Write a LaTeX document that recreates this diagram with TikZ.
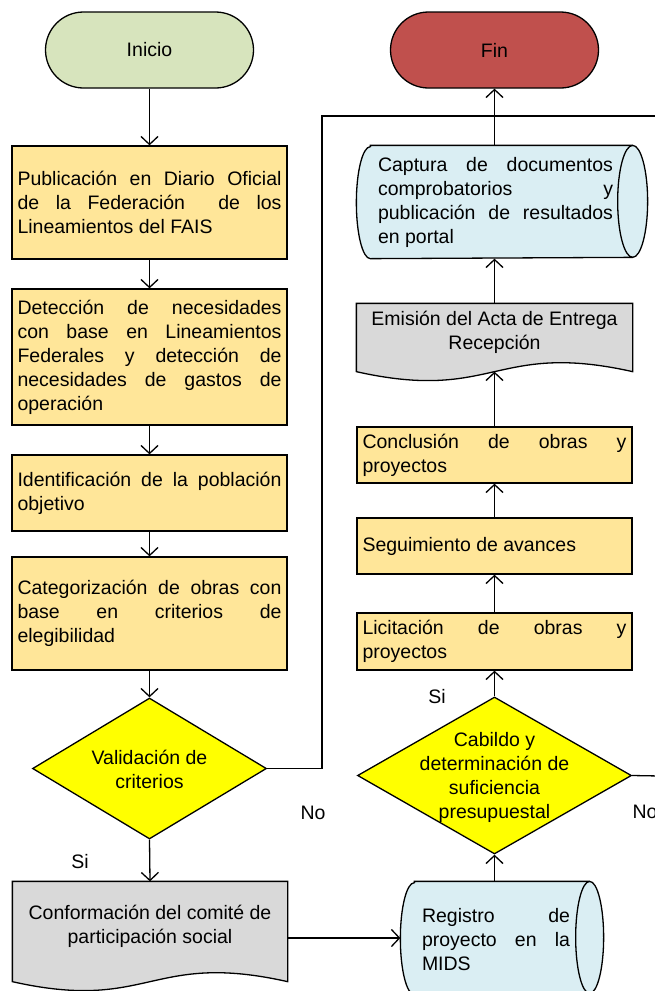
\documentclass[tikz,border=0pt]{standalone}
\usepackage{fontspec}
\setmainfont{Liberation Sans}
\usetikzlibrary{arrows.meta,shapes.geometric,calc}
\hbadness=10000 \tolerance=10000 \hyphenpenalty=10000 \exhyphenpenalty=10000
\definecolor{cgreen}{HTML}{D7E4BD}
\definecolor{cred}{HTML}{C0504D}
\definecolor{cbox}{HTML}{FFE699}
\definecolor{cblue}{HTML}{DAEEF3}
\definecolor{cgray}{HTML}{D9D9D9}
\definecolor{cyel}{HTML}{FFFF00}
\begin{document}
\begin{tikzpicture}[x=1pt,y=-1pt,line width=1.3pt,
  font=\fontsize{19.5}{24}\selectfont,
  term/.style={draw,rounded corners=38pt,minimum width=208pt,minimum height=76pt,inner sep=0pt},
  procbox/.style={draw,fill=cbox,minimum width=275pt,inner xsep=5.5pt,inner ysep=0pt,text width=264pt,align=justify},
  ghost/.style={draw=none,inner sep=0pt},
  dia/.style={diamond,draw,fill=cyel,inner sep=0pt},
  ctext/.style={inner sep=0pt,align=center},
  jtext/.style={inner sep=0pt,align=justify},
  lbl/.style={inner sep=0pt},
  arr/.style={-{Straight Barb[length=8pt,width=17pt]}}]
\useasboundingbox (0,0) rectangle (655,991);
\fill[white] (0,0) rectangle (655,991);
\clip (0,0) rectangle (655,991);

% terminals
\node[term,fill=cgreen] (ini) at (149.5,50) {Inicio};
\node[term,fill=cred] (fin) at (494.5,50) {Fin};

% left column
\node[procbox,minimum height=113pt] (b1) at (149.5,202.5) {Publicación en Diario Oficial\linebreak de la Federación \ de los\linebreak Lineamientos del FAIS};
\node[procbox,minimum height=136pt] (b2) at (149.5,357) {Detección de necesidades\linebreak con base en Lineamientos\linebreak Federales y detección de\linebreak necesidades de gastos de\linebreak operación};
\node[procbox,minimum height=76pt] (b3) at (149.5,493) {Identificación de la población\linebreak objetivo};
\node[procbox,minimum height=113pt] (b4) at (149.5,613.5) {Categorización de obras con\linebreak base en criterios de\linebreak elegibilidad};
\node[dia,minimum width=234pt,minimum height=141pt] (d1) at (149.5,768.5) {};
\node[ctext] (d1t) at (149.5,769.5) {Validación de\\criterios};

% document 1
\node[ghost,minimum width=274pt,minimum height=99pt] (doc1) at (150,931.5) {};
\draw[fill=cgray] (doc1.north west) -- (doc1.north east) -- (doc1.south east)
  .. controls ($(doc1.south)+(0,-31)$) and ($(doc1.south)+(0,31)$) .. (doc1.south west) -- cycle;
\node[ctext] (doc1t) at (150,926) {Conformación del comité de\\participación social};

% registro cylinder
\node[ghost,minimum width=202pt,minimum height=112pt] (reg) at (502,938) {};
\draw[fill=cblue] ($(reg.north west)+(14,0)$) -- ($(reg.north east)+(-14,0)$)
  arc[start angle=-90,end angle=90,x radius=14,y radius=56]
  -- ($(reg.south west)+(14,0)$)
  arc[start angle=90,end angle=270,x radius=14,y radius=56] -- cycle;
\draw ($(reg.north east)+(-14,0)$) arc[start angle=270,end angle=90,x radius=14,y radius=56];
\node[jtext,text width=148pt] (regt) at (496,940) {Registro de\linebreak proyecto en la\linebreak MIDS};

% right column
\node[dia,minimum width=274pt,minimum height=157pt] (d2) at (494.5,775.5) {};
\node[ctext] (d2t) at (494.5,777) {Cabildo y\\determinación de\\suficiencia\\presupuestal};
\node[procbox,minimum height=57pt] (lic) at (494.5,641.5) {Licitación de obras y\linebreak proyectos};
\node[procbox,minimum height=56pt] (seg) at (494.5,546) {Seguimiento de avances};
\node[procbox,minimum height=56pt] (con) at (494.5,455) {Conclusión de obras y\linebreak proyectos};

% document 2
\node[ghost,minimum width=275pt,minimum height=67pt] (emi) at (494.5,337.5) {};
\draw[fill=cgray] (emi.north west) -- (emi.north east) -- (emi.south east)
  .. controls ($(emi.south)+(0,-31)$) and ($(emi.south)+(0,31)$) .. (emi.south west) -- cycle;
\node[ctext] (emit) at (494.5,332.5) {Emisión del Acta de Entrega\\Recepción};

% captura cylinder
\node[ghost,minimum width=290pt,minimum height=112pt] (cap) at (502,202) {};
\draw[fill=cblue] ($(cap.north west)+(14,0)$) -- ($(cap.north east)+(-15,0)$)
  arc[start angle=-90,end angle=90,x radius=15,y radius=56]
  -- ($(cap.south west)+(14,0)$)
  arc[start angle=90,end angle=270,x radius=14,y radius=56] -- cycle;
\draw ($(cap.north east)+(-15,0)$) arc[start angle=270,end angle=90,x radius=15,y radius=56];
\node[jtext,text width=235pt] (capt) at (495.5,202.75) {Captura de documentos\linebreak comprobatorios y\linebreak publicación de resultados\linebreak en portal};

% labels
\node[lbl] (no1) at (313,813) {No};
\node[lbl] (si1) at (80,862) {Si};
\node[lbl] (si2) at (437,697) {Si};
\node[lbl,anchor=west] (no2) at (632,812) {No};

% connectors
\draw[arr] (ini.south) -- (b1.north);
\draw[arr] (b1.south) -- (b2.north);
\draw[arr] (b2.south) -- (b3.north);
\draw[arr] (b3.south) -- (b4.north);
\draw[arr] (b4.south) -- (d1.north);
\draw[arr] (d1.south) -- (doc1.north);
\draw[arr] (doc1.east |- reg.west) -- (reg.west);
\draw[arr] (reg.north -| d2.south) -- (d2.south);
\draw[arr] (d2.north) -- (lic.south);
\draw[arr] (lic.north) -- (seg.south);
\draw[arr] (seg.north) -- (con.south);
\draw[arr] (con.north) -- (emi.south);
\draw[arr] (emi.north) -- (cap.south -| emi.north);
\draw[arr] (cap.north -| fin.south) -- (fin.south);
\coordinate (nc) at (322,116);
\coordinate (ne) at (660,116);
\draw (d1.east) -| (nc) -- (ne);
\coordinate (ne2) at (660,776);
\draw (d2.east) -- (ne2);
\end{tikzpicture}
\end{document}
